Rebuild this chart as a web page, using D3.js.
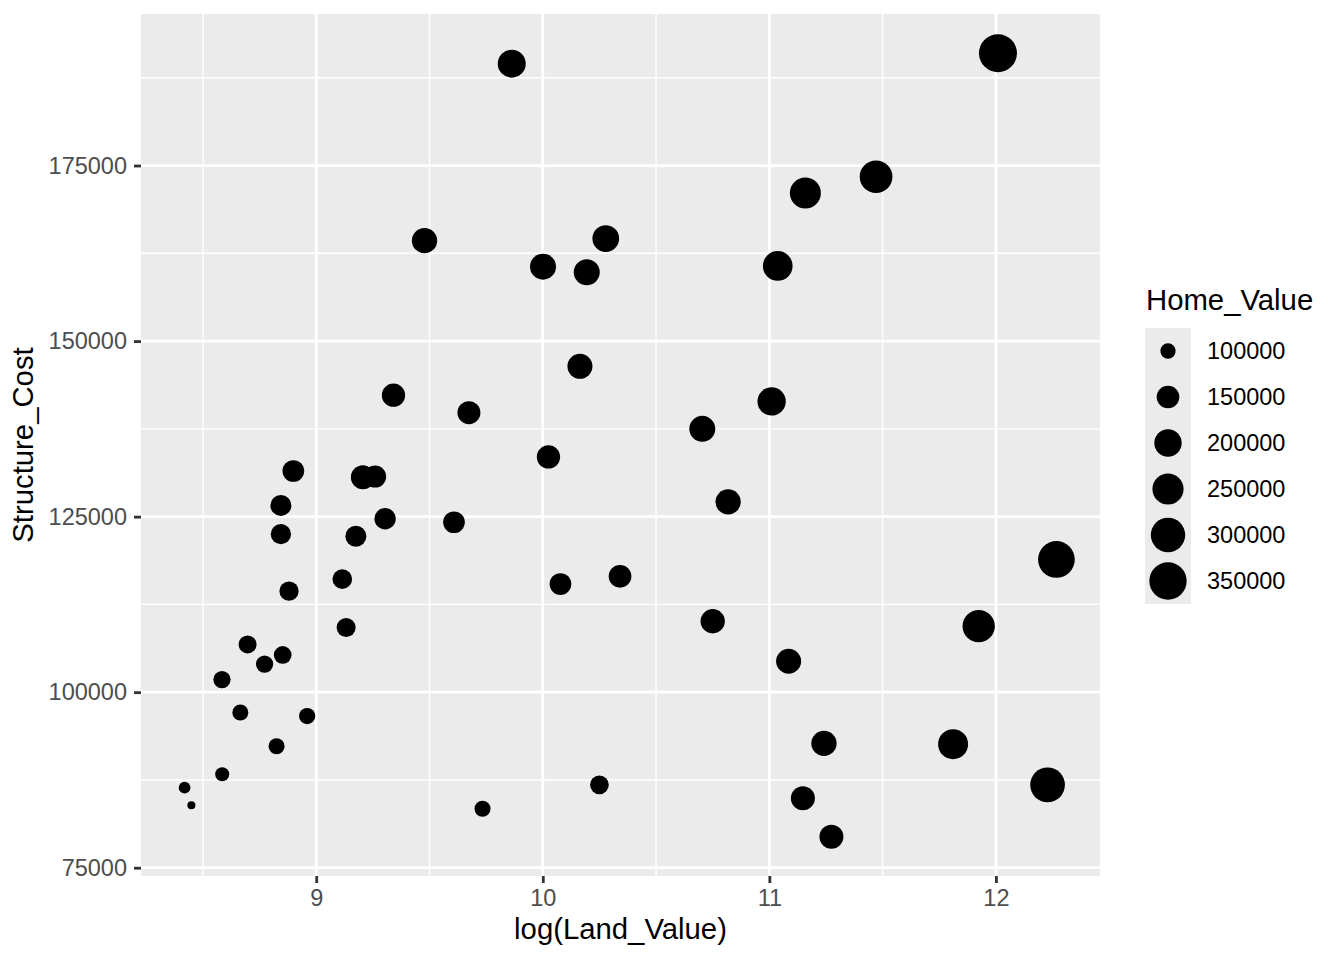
<!DOCTYPE html>
<html>
<head>
<meta charset="utf-8">
<script src="https://cdn.jsdelivr.net/npm/d3@7"></script>
<style>
  body { margin: 0; background: #ffffff; }
  text { font-family: "Liberation Sans", Arial, Helvetica, sans-serif; }
</style>
</head>
<body>
<div id="chart"></div>
<script>
//////////////////////////////////////////////////////////////////////////////
// Data

var landValueLog = [
    9.863, 12.009, 11.471, 11.159, 9.478, 10.278, 10.001, 10.194, 11.037, 10.164,
    9.341, 11.010, 9.674, 10.704, 10.025, 8.899, 9.206, 9.260, 10.818, 8.844,
    9.304, 9.608, 8.844, 9.175, 12.267, 9.115, 10.078, 10.341, 8.880, 10.750,
    11.924, 9.132, 8.697, 8.852, 11.085, 8.772, 8.584, 8.665, 8.960, 11.811,
    11.241, 8.825, 8.585, 12.228, 10.250, 8.419, 11.148, 8.449, 9.734, 11.274
];

var structureCost = [
    189500, 191000, 173400, 171100, 164300, 164600, 160600, 159800, 160700, 146400,
    142300, 141400, 139800, 137500, 133500, 131500, 130600, 130700, 127100, 126600,
    124700, 124200, 122500, 122200, 118900, 116100, 115400, 116500, 114400, 110100,
    109400, 109200, 106800, 105300, 104400, 104000, 101800, 97100, 96600, 92600,
    92700, 92300, 88300, 86800, 86800, 86400, 84900, 83900, 83400, 79400
];

var homeValue = [
    207700, 363000, 273000, 247800, 176500, 192100, 184100, 184100, 229800, 173300,
    156200, 211500, 153400, 184100, 156200, 141800, 163000, 144400, 176500, 136000,
    138400, 141800, 130500, 136000, 339300, 126000, 141800, 150600, 123200, 166000,
    266900, 121100, 114500, 112700, 173300, 110400, 110400, 103400, 104900, 233800,
    176500, 103400, 94700, 304900, 119100, 87800, 163000, 83500, 103400, 163000
];

var xTicks = [9, 10, 11, 12];
var xMinor = [8.5, 9.5, 10.5, 11.5];
var yTicks = [75000, 100000, 125000, 150000, 175000];
var yMinor = [87500, 112500, 137500, 162500, 187500];
var legendBreaks = [100000, 150000, 200000, 250000, 300000, 350000];

//////////////////////////////////////////////////////////////////////////////
// Layout

var width = 1344, height = 960;
var panel = { left: 141, right: 1100, top: 14, bottom: 876 };

function expand(ext)
{
    var pad = (ext[1] - ext[0]) * 0.05;
    return [ext[0] - pad, ext[1] + pad];
}

var xScale = d3.scaleLinear()
    .domain(expand(d3.extent(landValueLog)))
    .range([panel.left, panel.right]);
var yScale = d3.scaleLinear()
    .domain(expand(d3.extent(structureCost)))
    .range([panel.bottom, panel.top]);

// ggplot-like area scale: diameter grows with sqrt of rescaled value
var sizeNorm = d3.scaleLinear().domain(d3.extent(homeValue)).range([0, 1]).clamp(true);
var diamScale = d3.scaleLinear().domain([0, 1]).range([8, 38]);
function radius(v) { return diamScale(Math.sqrt(sizeNorm(v))) / 2; }

var svg = d3.select("#chart")
    .append("svg")
    .attr("width", width)
    .attr("height", height);

//////////////////////////////////////////////////////////////////////////////
// Panel and grid

svg.append("rect")
    .attr("x", panel.left)
    .attr("y", panel.top)
    .attr("width", panel.right - panel.left)
    .attr("height", panel.bottom - panel.top)
    .attr("fill", "#EBEBEB");

var grid = svg.append("g");

grid.selectAll("line.xminor")
    .data(xMinor)
    .enter().append("line")
    .attr("x1", function(d) { return xScale(d); })
    .attr("x2", function(d) { return xScale(d); })
    .attr("y1", panel.top).attr("y2", panel.bottom)
    .attr("stroke", "#ffffff").attr("stroke-width", 1.4);

grid.selectAll("line.yminor")
    .data(yMinor)
    .enter().append("line")
    .attr("y1", function(d) { return yScale(d); })
    .attr("y2", function(d) { return yScale(d); })
    .attr("x1", panel.left).attr("x2", panel.right)
    .attr("stroke", "#ffffff").attr("stroke-width", 1.4);

grid.selectAll("line.xmajor")
    .data(xTicks)
    .enter().append("line")
    .attr("x1", function(d) { return xScale(d); })
    .attr("x2", function(d) { return xScale(d); })
    .attr("y1", panel.top).attr("y2", panel.bottom)
    .attr("stroke", "#ffffff").attr("stroke-width", 2.8);

grid.selectAll("line.ymajor")
    .data(yTicks)
    .enter().append("line")
    .attr("y1", function(d) { return yScale(d); })
    .attr("y2", function(d) { return yScale(d); })
    .attr("x1", panel.left).attr("x2", panel.right)
    .attr("stroke", "#ffffff").attr("stroke-width", 2.8);

//////////////////////////////////////////////////////////////////////////////
// Axes

var xAxis = svg.append("g")
    .attr("transform", "translate(0," + panel.bottom + ")")
    .call(d3.axisBottom(xScale).tickValues(xTicks).tickSize(7).tickPadding(6).tickFormat(d3.format("d")));

var yAxis = svg.append("g")
    .attr("transform", "translate(" + panel.left + ",0)")
    .call(d3.axisLeft(yScale).tickValues(yTicks).tickSize(7).tickPadding(7).tickFormat(d3.format("d")));

[xAxis, yAxis].forEach(function(ax) {
    ax.select(".domain").remove();
    ax.selectAll(".tick line").attr("stroke", "#333333").attr("stroke-width", 2.8);
    ax.selectAll(".tick text")
        .attr("fill", "#4D4D4D")
        .style("font-size", "23.5px")
        .style("font-family", "'Liberation Sans', Arial, Helvetica, sans-serif");
});

svg.append("text")
    .attr("x", (panel.left + panel.right) / 2)
    .attr("y", 939)
    .attr("text-anchor", "middle")
    .style("font-size", "29.3px")
    .attr("fill", "#000000")
    .text("log(Land_Value)");

svg.append("text")
    .attr("transform", "translate(33," + (panel.top + panel.bottom) / 2 + ") rotate(-90)")
    .attr("text-anchor", "middle")
    .style("font-size", "29.3px")
    .attr("fill", "#000000")
    .text("Structure_Cost");

//////////////////////////////////////////////////////////////////////////////
// Points

svg.append("g")
    .selectAll("circle")
    .data(homeValue)
    .enter()
    .append("circle")
    .attr("cx", function(d, i) { return xScale(landValueLog[i]); })
    .attr("cy", function(d, i) { return yScale(structureCost[i]); })
    .attr("r", function(d) { return radius(d); })
    .attr("fill", "#000000");

//////////////////////////////////////////////////////////////////////////////
// Legend

var legend = svg.append("g").attr("transform", "translate(1145,328)");
var keyW = 46, keyH = 46;

legend.append("text")
    .attr("x", 1)
    .attr("y", -18)
    .style("font-size", "29.3px")
    .attr("fill", "#000000")
    .text("Home_Value");

legend.append("rect")
    .attr("width", keyW)
    .attr("height", keyH * legendBreaks.length)
    .attr("fill", "#EBEBEB");

var keys = legend.selectAll("g.key")
    .data(legendBreaks)
    .enter().append("g")
    .attr("transform", function(d, i) { return "translate(0," + (i * keyH) + ")"; });

keys.append("circle")
    .attr("cx", keyW / 2)
    .attr("cy", keyH / 2)
    .attr("r", function(d) { return radius(d); })
    .attr("fill", "#000000");

keys.append("text")
    .attr("x", 62)
    .attr("y", keyH / 2)
    .attr("dy", "0.36em")
    .style("font-size", "23.5px")
    .attr("fill", "#000000")
    .text(function(d) { return d; });
</script>
</body>
</html>
